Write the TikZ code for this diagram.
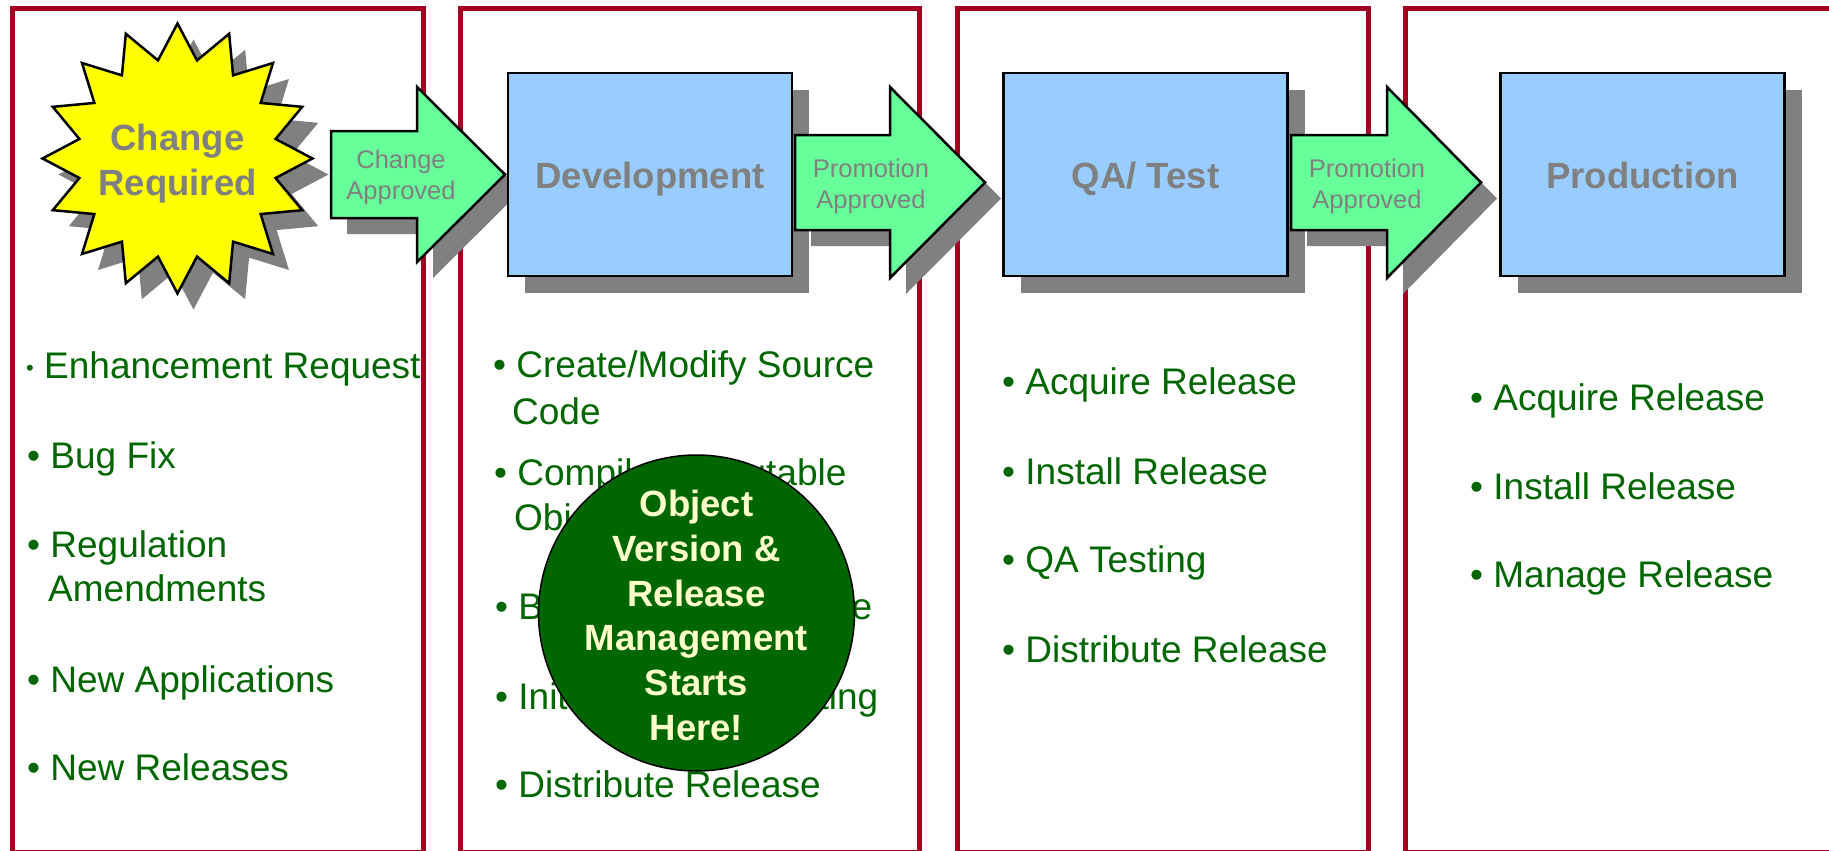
\documentclass[tikz,border=0pt]{standalone}
\usepackage{fontspec}
\setmainfont{Liberation Sans}
\usetikzlibrary{shapes.geometric,shadows}

\definecolor{framered}{RGB}{165,0,33}
\definecolor{shadowgray}{RGB}{128,128,128}
\definecolor{boxblue}{RGB}{153,204,255}
\definecolor{arrowgreen}{RGB}{102,255,153}
\definecolor{burstyellow}{RGB}{255,255,0}
\definecolor{labelgray}{RGB}{128,128,128}
\definecolor{itemgreen}{RGB}{0,102,0}
\definecolor{notecream}{RGB}{255,255,204}

\tikzset{
  panel/.style={draw=framered, line width=5pt},
  shade16/.style={drop shadow={shadow xshift=16pt, shadow yshift=-16pt, opacity=1, fill=shadowgray}},
  stage/.style={draw=black, line width=2.5pt, fill=boxblue,
    minimum width=284pt, minimum height=203pt, inner sep=0pt,
    text=labelgray, font=\fontsize{36.5}{44}\selectfont\bfseries,
    text height=27pt, text depth=0pt,
    drop shadow={shadow xshift=17pt, shadow yshift=-17pt, opacity=1, fill=shadowgray}},
  gate/.style={draw=black, line width=2.5pt, fill=arrowgreen, line join=miter, shade16},
  gatelabel/.style={text=labelgray, align=center, inner sep=0pt,
    font=\fontsize{25.5}{31}\selectfont},
  item/.style={anchor=base west, inner sep=0pt, text=itemgreen,
    font=\fontsize{37}{44}\selectfont},
}

\begin{document}
\begin{tikzpicture}[x=1pt,y=-1pt]
\useasboundingbox (0,0) rectangle (1829,851);
\fill[white] (0,0) rectangle (1829,851);

% lifecycle panels
\draw[panel] (12,9) rectangle (423,852);
\draw[panel] (460.5,9) rectangle (919.5,852);
\draw[panel] (957,9) rectangle (1368,852);
\draw[panel] (1405,9) rectangle (1845,852);

% change request burst
\node[star, star points=16, star point ratio=1.35, minimum size=270pt,
      inner sep=0pt, draw=black, line width=2.5pt, fill=burstyellow, shade16]
      (req) at (177.5,158.5) {};
\node[text=labelgray, align=center, inner sep=0pt,
      font=\fontsize{36.5}{45}\selectfont\bfseries] (reqtext) at (177.5,163.5) {Change\\Required};

% approval arrows and stage boxes
\filldraw[gate] (331,131) -- (417,131) -- (417,87) -- (505,174.5) -- (417,262) -- (417,218) -- (331,218) -- cycle;
\node[gatelabel] (g1) at (401,177.5) {Change\\Approved};

\node[stage] (dev) at (650,174.5) {Development};

\filldraw[gate] (795,135) -- (890,135) -- (890,87) -- (985,182.5) -- (890,278) -- (890,230) -- (795,230) -- cycle;
\node[gatelabel] (g2) at (871,186.5) {Promotion\\Approved};

\node[stage] (qa) at (1145.5,174.5) {QA/ Test};

\filldraw[gate] (1291,135) -- (1387,135) -- (1387,87) -- (1481,182.5) -- (1387,278) -- (1387,230) -- (1291,230) -- cycle;
\node[gatelabel] (g3) at (1367,186.5) {Promotion\\Approved};

\node[stage] (prod) at (1642.5,174.5) {Production};

% change sources
\node[item] (c1) at (26,378.5) {{\raisebox{3pt}{\fontsize{22}{22}\selectfont •}} Enhancement Request};
\node[item] (c2) at (27,468) {• Bug Fix};
\node[item] (c3) at (27,557) {• Regulation};
\node[item] (c3b) at (48,601) {Amendments};
\node[item] (c4) at (27,692) {• New Applications};
\node[item] (c5) at (27,780) {• New Releases};

% development tasks
\node[item] (d1) at (493,377) {• Create/Modify Source};
\node[item] (d1b) at (512,424) {Code};
\node[item] (d2) at (494,485) {• Compile Executable};
\node[item] (d2b) at (514,530) {Objects};
\node[item] (d3) at (495,619) {• Build Release Bundle};
\node[item] (d4) at (495,709) {• Initial Release Testing};
\node[item] (d5) at (495,797) {• Distribute Release};

% QA tasks
\node[item] (q1) at (1002,394) {• Acquire Release};
\node[item] (q2) at (1002,484) {• Install Release};
\node[item] (q3) at (1002,572) {• QA Testing};
\node[item] (q4) at (1002,662) {• Distribute Release};

% production tasks
\node[item] (p1) at (1470,410) {• Acquire Release};
\node[item] (p2) at (1470,499) {• Install Release};
\node[item] (p3) at (1470,587) {• Manage Release};

% highlight disc with its caption
\node[circle, draw=black, line width=1.5pt, fill=itemgreen, minimum size=316pt,
      inner sep=0pt] (note) at (696.5,613) {};
\node[text=notecream, align=center, inner sep=0pt,
      font=\fontsize{36.5}{44.8}\selectfont\bfseries]
      (notetext) at (696.5,615.5) {Object\\Version \&\\Release\\Management\\Starts\\Here!};
\end{tikzpicture}
\end{document}
